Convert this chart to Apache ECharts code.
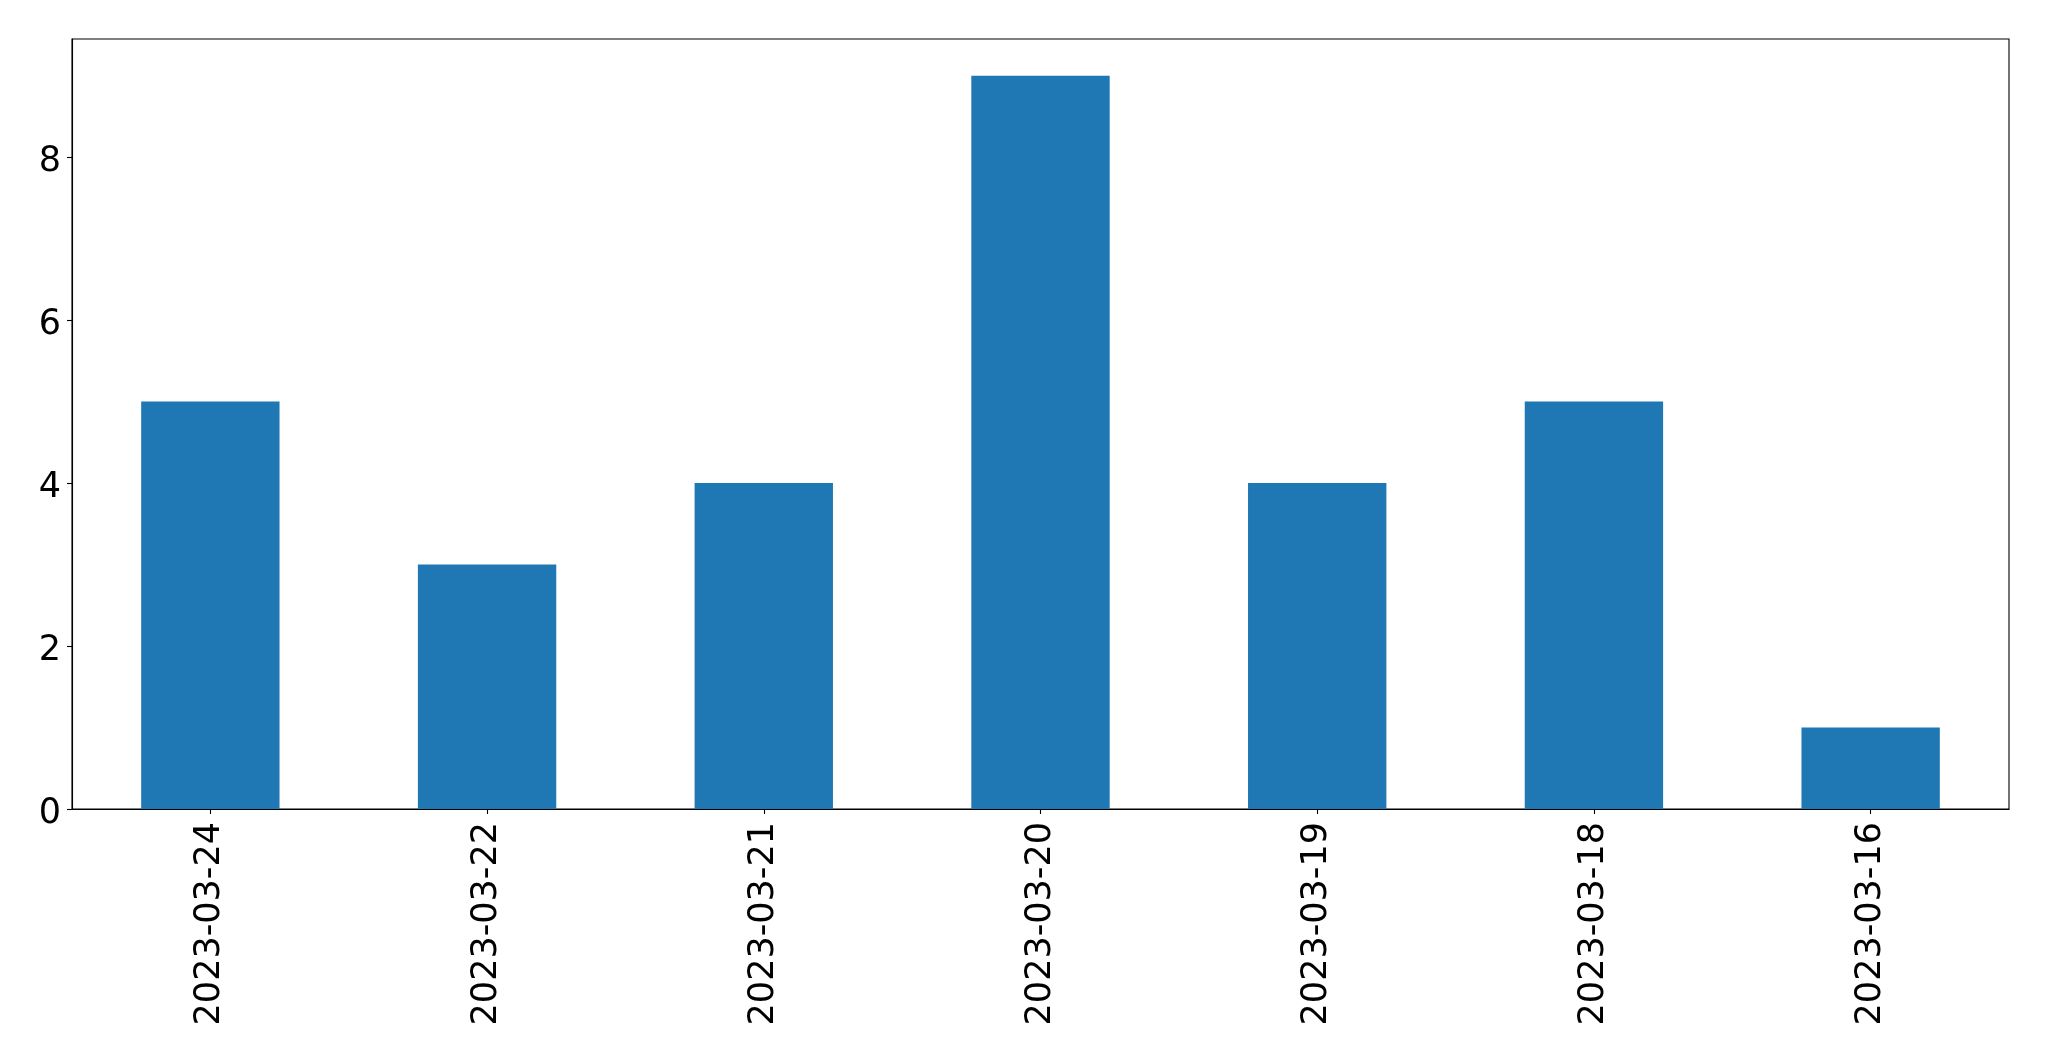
<!DOCTYPE html>
<html>
<head>
<meta charset="utf-8">
<script src="https://cdn.jsdelivr.net/npm/echarts@6/dist/echarts.min.js"></script>
<style>
html,body{margin:0;padding:0;background:#fff;}
#chart{width:2049px;height:1061px;}
</style>
</head>
<body>
<div id="chart"></div>
<script>
const categories = ['2023-03-24','2023-03-22','2023-03-21','2023-03-20','2023-03-19','2023-03-18','2023-03-16'];
const values = [5,3,4,9,4,5,1];
const yTicks = [0,2,4,6,8];

const chart = echarts.init(document.getElementById('chart'), null, {renderer:'canvas'});
const font = 'DejaVu Sans';
chart.setOption({
  animation:false,
  backgroundColor:'#ffffff',
  grid:{left:72, top:39, width:1937, height:770, show:true, borderColor:'#000', borderWidth:1.1, containLabel:false},
  xAxis:{
    type:'category',
    data:categories,
    boundaryGap:true,
    axisLine:{show:true, lineStyle:{color:'#000', width:1.1}},
    axisTick:{show:true, alignWithLabel:true, length:5, lineStyle:{color:'#000', width:1.1}},
    axisLabel:{rotate:90, margin:13, fontFamily:font, fontSize:35, color:'#000', interval:0}
  },
  yAxis:{
    type:'value',
    min:0, max:9.45, interval:2,
    splitLine:{show:false},
    axisLine:{show:true, lineStyle:{color:'#000', width:1.1}},
    axisTick:{show:true, length:5, lineStyle:{color:'#000', width:1.1}},
    axisLabel:{margin:11, fontFamily:font, fontSize:35, color:'#000', showMaxLabel:false,
      formatter:function(v){return yTicks.indexOf(v)>=0 ? '{a|' + v + '}' : '';},
      rich:{a:{fontFamily:font, fontSize:35, color:'#000', padding:[9,0,0,0]}}}
  },
  series:[{
    type:'bar',
    data:values,
    barWidth:'50%',
    itemStyle:{color:'#1f77b4'}
  }]
});
</script>
</body>
</html>
